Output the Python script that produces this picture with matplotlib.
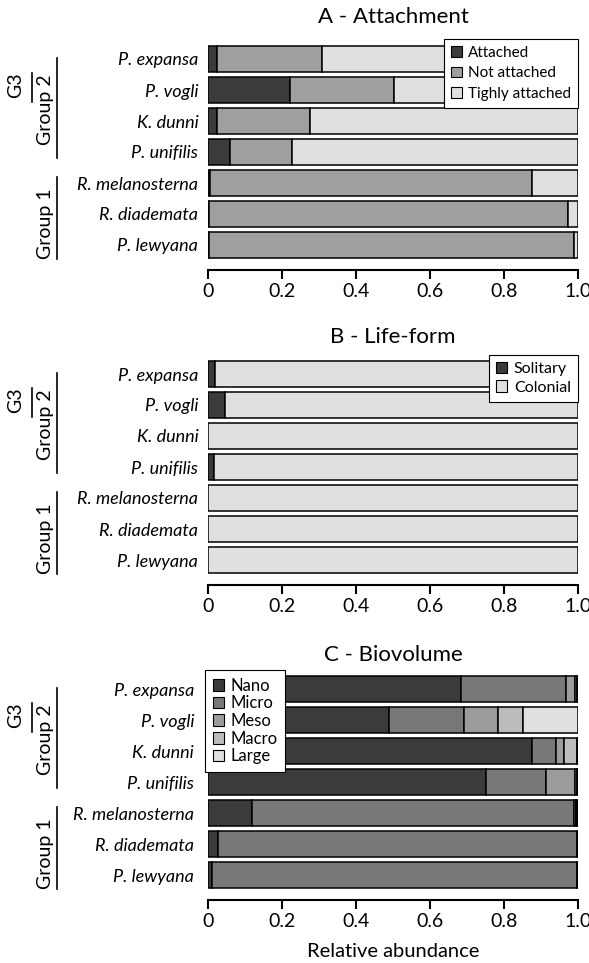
import numpy as np
import matplotlib
matplotlib.use('Agg')
import matplotlib.pyplot as plt
from matplotlib.patches import Patch
from matplotlib.transforms import blended_transform_factory

plt.rcParams['font.family'] = ['Lato', 'DejaVu Sans']

species = ['P. expansa', 'P. vogli', 'K. dunni', 'P. unifilis',
           'R. melanosterna', 'R. diademata', 'P. lewyana']

# A - Attachment
attached = [0.025, 0.222, 0.023, 0.060, 0.006, 0.003, 0.003]
not_attached = [0.284, 0.282, 0.253, 0.166, 0.871, 0.969, 0.987]
tightly = [0.691, 0.496, 0.724, 0.774, 0.123, 0.028, 0.010]

# B - Life-form
solitary = [0.020, 0.047, 0.0, 0.017, 0.0, 0.0, 0.0]
colonial = [0.980, 0.953, 1.0, 0.983, 1.0, 1.0, 1.0]

# C - Biovolume
nano = [0.685, 0.489, 0.877, 0.752, 0.119, 0.027, 0.011]
micro = [0.282, 0.203, 0.063, 0.161, 0.871, 0.970, 0.986]
meso = [0.025, 0.092, 0.022, 0.078, 0.005, 0.001, 0.001]
macro = [0.005, 0.066, 0.035, 0.006, 0.003, 0.001, 0.001]
large = [0.003, 0.150, 0.003, 0.003, 0.002, 0.001, 0.001]

W, H = 589, 963
fig = plt.figure(figsize=(W / 100, H / 100), dpi=100)

def px_axes(left, top, right, bottom):
    return fig.add_axes([left / W, 1 - bottom / H, (right - left) / W, (bottom - top) / H])

def stacked(ax, series, colors, ypad=7):
    for s in ['left', 'top', 'right']:
        ax.spines[s].set_visible(False)
    # set spine position first: it resets the tick settings
    ax.spines['bottom'].set_position(('outward', 7))
    ax.spines['bottom'].set_linewidth(1.5)
    y = np.arange(len(species))
    left = np.zeros(len(species))
    for vals, c in zip(series, colors):
        ax.barh(y, vals, left=left, height=0.84, color=c, edgecolor='black', linewidth=1.1)
        left += np.array(vals)
    ax.set_xlim(0, 1)
    ax.set_ylim(6.5, -0.5)
    ax.set_yticks(y)
    ax.set_yticklabels(species, fontstyle='italic')
    ax.tick_params(axis='y', length=0, pad=ypad, labelsize=13)
    ax.set_xticks([0, 0.2, 0.4, 0.6, 0.8, 1.0])
    ax.set_xticklabels(['0', '0.2', '0.4', '0.6', '0.8', '1.0'])
    ax.tick_params(axis='x', length=6.5, width=1.5, direction='out', pad=3, labelsize=14)
    # group annotations
    tr = blended_transform_factory(fig.transFigure, ax.transData)
    ax.plot([57 / W, 57 / W], [-0.03, 3.2], color='black', lw=1.2, transform=tr, clip_on=False)
    ax.plot([57 / W, 57 / W], [3.8, 6.45], color='black', lw=1.2, transform=tr, clip_on=False)
    ax.plot([32 / W, 32 / W], [0.45, 1.39], color='black', lw=1.2, transform=tr, clip_on=False)
    ax.text(45 / W, 1.65, 'Group 2', rotation=90, ha='center', va='center', fontsize=14, transform=tr)
    ax.text(16 / W, 0.85, 'G3', rotation=90, ha='center', va='center', fontsize=14, transform=tr)
    ax.text(45 / W, 5.3, 'Group 1', rotation=90, ha='center', va='center', fontsize=14, transform=tr)

def legend(ax, labels, colors, anchor, loc, spacing, size):
    handles = [Patch(facecolor=c, edgecolor='black', linewidth=0.8) for c in colors]
    leg = ax.legend(handles, labels, loc=loc, bbox_to_anchor=(anchor[0] / W, 1 - anchor[1] / H),
                    bbox_transform=fig.transFigure, fontsize=size, frameon=True, fancybox=False,
                    handlelength=0.7, handleheight=0.7, handletextpad=0.4,
                    labelspacing=spacing, borderaxespad=0, borderpad=0.45)
    leg.get_frame().set_edgecolor('black')
    leg.get_frame().set_linewidth(0.8)
    leg.get_frame().set_alpha(1)

dark, mid, light = '#3b3b3b', '#9f9f9f', '#e0e0e0'

axA = px_axes(208, 43.5, 578, 260.5)
stacked(axA, [attached, not_attached, tightly], [dark, mid, light])
legend(axA, ['Attached', 'Not attached', 'Tighly attached'], [dark, mid, light], (578, 39), 'upper right', 0.42, 11)
fig.text(393 / W, 1 - 17 / H, 'A - Attachment', ha='center', va='center', fontsize=16)

axB = px_axes(208, 358.5, 578, 575.5)
stacked(axB, [solitary, colonial], [dark, light])
legend(axB, ['Solitary', 'Colonial'], [dark, light], (578, 355), 'upper right', 0.25, 11.5)
fig.text(393 / W, 1 - 337 / H, 'B - Life-form', ha='center', va='center', fontsize=16)

axC = px_axes(208, 673.5, 578, 890.5)
cols_c = [dark, '#787878', '#9c9c9c', '#bcbcbc', light]
stacked(axC, [nano, micro, meso, macro, large], cols_c, ypad=10)
legend(axC, ['Nano', 'Micro', 'Meso', 'Macro', 'Large'], cols_c, (205, 670), 'upper left', 0.1, 12)
fig.text(393 / W, 1 - 951 / H, 'Relative abundance', ha='center', va='center', fontsize=14.5)
fig.text(393 / W, 1 - 655 / H, 'C - Biovolume', ha='center', va='center', fontsize=16)

fig.savefig('out.png', dpi=100)
